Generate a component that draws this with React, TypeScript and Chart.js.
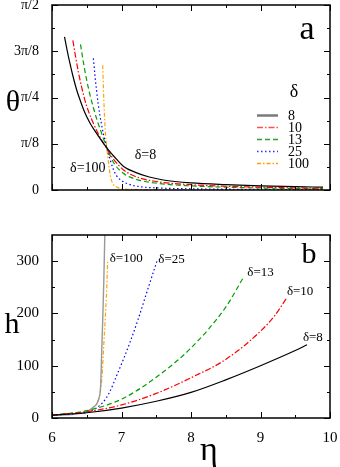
import React, { useEffect, useRef } from "react";
import { Chart, registerables } from "chart.js";
Chart.register(...registerables);

const PI = Math.PI;
const SERIF = "'Liberation Serif', 'Times New Roman', serif";

// ---- tick labels ----
const thetaTickValues = [0, PI / 8, PI / 4, (3 * PI) / 8, PI / 2];
const thetaTickLabels = ["0", "π/8", "π/4", "3π/8", "π/2"];
const thetaMinorTicks = [PI / 16, (3 * PI) / 16, (5 * PI) / 16, (7 * PI) / 16];
const etaTickValues = [6, 7, 8, 9, 10];
const etaMinorTicks = [6.5, 7.5, 8.5, 9.5];
const hTickValues = [0, 100, 200, 300];
const hMinorTicks = [50, 150, 250];
const deltaLabels = ["8", "10", "13", "25", "100"];

// ---- panel a: theta(eta) ----
const etaA8 = [6.18, 6.22, 6.26, 6.3, 6.35, 6.4, 6.47, 6.55, 6.62, 6.7, 6.8, 6.9, 7.03, 7.2, 7.4, 7.6, 8.0, 8.5, 9.0, 9.5, 9.9];
const thetaA8 = [1.3, 1.18, 1.07, 0.97, 0.86, 0.77, 0.66, 0.565, 0.5, 0.43, 0.35, 0.28, 0.2, 0.15, 0.11, 0.085, 0.06, 0.045, 0.035, 0.028, 0.024];
const etaA10 = [6.3, 6.34, 6.38, 6.42, 6.47, 6.53, 6.6, 6.68, 6.8, 6.9, 7.03, 7.2, 7.5, 8.0, 8.5, 9.0, 9.5, 9.9];
const thetaA10 = [1.27, 1.13, 1.0, 0.89, 0.77, 0.66, 0.56, 0.46, 0.34, 0.25, 0.17, 0.115, 0.072, 0.045, 0.032, 0.024, 0.018, 0.015];
const etaA13 = [6.41, 6.45, 6.5, 6.55, 6.6, 6.65, 6.7, 6.75, 6.8, 6.9, 7.03, 7.2, 7.5, 8.0, 8.5, 9.0, 9.5, 9.9];
const thetaA13 = [1.236, 1.09, 0.93, 0.8, 0.69, 0.59, 0.505, 0.42, 0.34, 0.22, 0.14, 0.093, 0.058, 0.035, 0.024, 0.017, 0.013, 0.011];
const etaA25 = [6.595, 6.62, 6.64, 6.665, 6.69, 6.715, 6.74, 6.77, 6.8, 6.84, 6.88, 6.93, 7.0, 7.1, 7.27, 7.5, 8.0, 8.5, 9.0, 9.5, 9.9];
const thetaA25 = [1.118, 0.96, 0.85, 0.73, 0.63, 0.55, 0.475, 0.4, 0.33, 0.25, 0.18, 0.12, 0.08, 0.05, 0.028, 0.018, 0.01, 0.007, 0.005, 0.004, 0.003];
const etaA100 = [6.73, 6.74, 6.75, 6.76, 6.77, 6.785, 6.8, 6.82, 6.84, 6.87, 6.93, 7.0, 7.12, 7.5, 8.0, 9.0, 9.9];
const thetaA100 = [1.06, 0.86, 0.7, 0.57, 0.47, 0.38, 0.3, 0.2, 0.12, 0.06, 0.025, 0.013, 0.006, 0.003, 0.002, 0.001, 0.001];

// ---- panel b: h(eta) ----
const etaB8 = [6.0, 6.5, 7.0, 7.5, 8.0, 8.5, 9.0, 9.5, 9.67];
const hB8 = [5.5, 10, 19, 32, 49, 73, 100, 129, 140];
const etaB10 = [6.0, 6.5, 7.0, 7.5, 8.0, 8.5, 9.0, 9.2, 9.37];
const hB10 = [5.5, 12, 25, 47, 77, 112, 166, 195, 228];
const etaB13 = [6.0, 6.5, 7.0, 7.5, 8.0, 8.5, 8.75];
const hB13 = [5.5, 14, 36, 78, 134, 212, 268];
const etaB25 = [6.0, 6.3, 6.55, 6.74, 6.83, 6.93, 7.03, 7.12, 7.24, 7.37, 7.51];
const hB25 = [5.5, 8, 13, 31, 50, 81, 113, 144, 189, 243, 300];
const etaB100 = [6.45, 6.6, 6.68, 6.72, 6.745, 6.77, 6.79, 6.8];
const hB100 = [10, 21, 40, 80, 140, 200, 255, 300];
const etaBLimit = [6.0, 6.45, 6.59, 6.67, 6.7, 6.715, 6.73, 6.745, 6.76, 6.77];
const hBLimit = [5, 10, 20, 36, 62, 126, 189, 260, 350, 420];

// ---- styles ----
const lineColors = ["#000000", "#ff0000", "#00a000", "#0000ff", "#ffa500"];
const lineDashes: number[][] = [[], [6, 2, 1.5, 2], [5, 3], [1.5, 2.5], [4, 2, 1.5, 2]];
const legendColors = ["#7a7a7a", "#ff5050", "#30a030", "#3030ff", "#ffa000"];

const pts = (xs: number[], ys: number[]) => xs.map((x, i) => ({ x, y: ys[i] }));

function mkDataset(xs: number[], ys: number[], i: number) {
  return {
    data: pts(xs, ys),
    borderColor: lineColors[i],
    borderDash: lineDashes[i],
    borderWidth: 1.2,
    pointRadius: 0,
    cubicInterpolationMode: "monotone" as const,
    fill: false,
    clip: 0,
  };
}

function framePlugin(opts: {
  xMajor: number[]; xMinor: number[]; yMajor: number[]; yMinor: number[]; extra: (c: any) => void;
}) {
  return {
    id: "frame",
    afterDraw(chart: any) {
      const { ctx, chartArea: a, scales } = chart;
      const xs = scales.x, ys = scales.y;
      ctx.save();
      ctx.strokeStyle = "#000";
      ctx.lineWidth = 1;
      const tick = (len: number, vals: number[], horiz: boolean) => {
        for (const v of vals) {
          if (horiz) {
            const px = Math.round(xs.getPixelForValue(v)) + 0.5;
            ctx.beginPath();
            ctx.moveTo(px, a.bottom); ctx.lineTo(px, a.bottom - len);
            ctx.moveTo(px, a.top); ctx.lineTo(px, a.top + len);
            ctx.stroke();
          } else {
            const py = Math.round(ys.getPixelForValue(v)) + 0.5;
            ctx.beginPath();
            ctx.moveTo(a.left, py); ctx.lineTo(a.left + len, py);
            ctx.moveTo(a.right, py); ctx.lineTo(a.right - len, py);
            ctx.stroke();
          }
        }
      };
      tick(6, opts.xMajor, true);
      tick(3, opts.xMinor, true);
      tick(6, opts.yMajor, false);
      tick(3, opts.yMinor, false);
      ctx.lineWidth = 1.5;
      ctx.strokeRect(a.left, a.top, a.right - a.left, a.bottom - a.top);
      ctx.restore();
      ctx.save();
      opts.extra(chart);
      ctx.restore();
    },
  };
}

function text(ctx: CanvasRenderingContext2D, s: string, x: number, y: number, size: number, align: CanvasTextAlign = "center") {
  ctx.font = `${size}px ${SERIF}`;
  ctx.fillStyle = "#000";
  ctx.textAlign = align;
  ctx.textBaseline = "middle";
  ctx.fillText(s, x, y);
}

const fitY = (s: any) => { s.width = 52; s.paddingTop = 0; s.paddingBottom = 0; };

export default function App() {
  const topRef = useRef<HTMLCanvasElement>(null);
  const botRef = useRef<HTMLCanvasElement>(null);

  useEffect(() => {
    const chartA = new Chart(topRef.current!, {
      type: "line",
      data: {
        datasets: [
          mkDataset(etaA8, thetaA8, 0),
          mkDataset(etaA10, thetaA10, 1),
          mkDataset(etaA13, thetaA13, 2),
          mkDataset(etaA25, thetaA25, 3),
          mkDataset(etaA100, thetaA100, 4),
        ],
      },
      options: {
        animation: false,
        responsive: false,
        events: [],
        layout: { padding: { left: 0, top: 5, right: 10, bottom: 10 } },
        plugins: { legend: { display: false }, tooltip: { enabled: false } },
        scales: {
          x: {
            type: "linear", min: 6, max: 10,
            grid: { display: false }, border: { display: false },
            ticks: { display: false },
            afterFit: (s: any) => { s.height = 0; s.paddingLeft = 0; s.paddingRight = 0; },
          },
          y: {
            type: "linear", min: 0, max: PI / 2,
            grid: { display: false }, border: { display: false },
            afterBuildTicks: (s: any) => { s.ticks = thetaTickValues.map((v) => ({ value: v })); },
            ticks: {
              font: { family: SERIF, size: 14 }, color: "#000", padding: 5,
              callback: (v: any) => {
                const i = thetaTickValues.findIndex((t) => Math.abs(t - Number(v)) < 1e-6);
                return i >= 0 ? thetaTickLabels[i] : "";
              },
            },
            afterFit: fitY,
          },
        },
      },
      plugins: [
        framePlugin({
          xMajor: etaTickValues, xMinor: etaMinorTicks, yMajor: thetaTickValues, yMinor: thetaMinorTicks,
          extra: (c: any) => {
            const ctx = c.ctx;
            const a = c.chartArea;
            text(ctx, "θ", 13, 103, 30);
            text(ctx, "a", a.right - 23, 30, 34);
            text(ctx, "δ", 294, 92, 18);
            const rows = [115, 127, 139, 151, 163];
            rows.forEach((ry, i) => {
              ctx.save();
              ctx.strokeStyle = legendColors[i];
              ctx.lineWidth = i === 0 ? 2.5 : 1.4;
              ctx.setLineDash(lineDashes[i]);
              ctx.beginPath();
              ctx.moveTo(257, ry + 0.5); ctx.lineTo(278, ry + 0.5);
              ctx.stroke();
              ctx.restore();
              text(ctx, deltaLabels[i], 288, ry + 1, 14, "left");
            });
            const xs = c.scales.x, ys = c.scales.y;
            text(ctx, "δ=100", xs.getPixelForValue(6.26), ys.getPixelForValue(0.187), 14, "left");
            text(ctx, "δ=8", xs.getPixelForValue(7.19), ys.getPixelForValue(0.297), 14, "left");
          },
        }),
      ],
    } as any);

    const limitDs = {
      data: pts(etaBLimit, hBLimit),
      borderColor: "#999999",
      borderWidth: 1.4,
      pointRadius: 0,
      cubicInterpolationMode: "monotone" as const,
      fill: false,
      clip: 0,
    };

    const chartB = new Chart(botRef.current!, {
      type: "line",
      data: {
        datasets: [
          mkDataset(etaB8, hB8, 0),
          mkDataset(etaB10, hB10, 1),
          mkDataset(etaB13, hB13, 2),
          mkDataset(etaB25, hB25, 3),
          limitDs,
          mkDataset(etaB100, hB100, 4),
        ],
      },
      options: {
        animation: false,
        responsive: false,
        events: [],
        layout: { padding: { left: 0, top: 35, right: 10, bottom: 0 } },
        plugins: { legend: { display: false }, tooltip: { enabled: false } },
        scales: {
          x: {
            type: "linear", min: 6, max: 10,
            grid: { display: false }, border: { display: false },
            afterBuildTicks: (s: any) => { s.ticks = etaTickValues.map((v) => ({ value: v })); },
            ticks: { font: { family: SERIF, size: 15 }, color: "#000", padding: 3, maxRotation: 0, autoSkip: false },
            afterFit: (s: any) => { s.height = 49; s.paddingLeft = 0; s.paddingRight = 0; },
          },
          y: {
            type: "linear", min: 0, max: 350,
            grid: { display: false }, border: { display: false },
            afterBuildTicks: (s: any) => { s.ticks = hTickValues.map((v) => ({ value: v })); },
            ticks: { font: { family: SERIF, size: 15 }, color: "#000", padding: 5 },
            afterFit: fitY,
          },
        },
      },
      plugins: [
        framePlugin({
          xMajor: etaTickValues, xMinor: etaMinorTicks, yMajor: hTickValues, yMinor: hMinorTicks,
          extra: (c: any) => {
            const ctx = c.ctx;
            const a = c.chartArea;
            text(ctx, "h", 12, 125, 30);
            text(ctx, "b", a.right - 21, 55, 30);
            text(ctx, "η", 209, 251, 34);
            const xs = c.scales.x, ys = c.scales.y;
            const lab = (s: string, x: number, y: number) =>
              text(ctx, s, xs.getPixelForValue(x), ys.getPixelForValue(y), 13, "left");
            lab("δ=100", 6.83, 305);
            lab("δ=25", 7.53, 303);
            lab("δ=13", 8.81, 278);
            lab("δ=10", 9.38, 242);
            lab("δ=8", 9.61, 154);
          },
        }),
      ],
    } as any);

    return () => {
      chartA.destroy();
      chartB.destroy();
    };
  }, []);

  return (
    <div style={{ position: "fixed", left: 0, top: 0, width: 340, height: 467, background: "#fff" }}>
      <canvas ref={topRef} width={340} height={200} style={{ position: "absolute", left: 0, top: 0 }} />
      <canvas ref={botRef} width={340} height={267} style={{ position: "absolute", left: 0, top: 200 }} />
    </div>
  );
}
